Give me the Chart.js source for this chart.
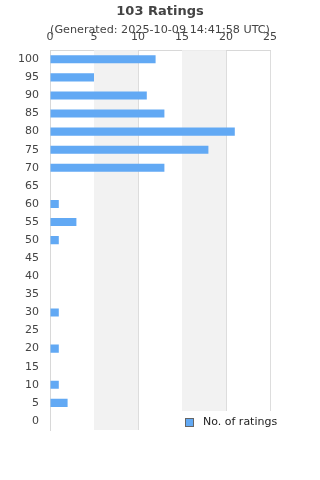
<!DOCTYPE html>
<html>
<head>
<meta charset="utf-8">
<script src="https://cdn.jsdelivr.net/npm/chart.js@4"></script>
<style>
  html, body { margin: 0; padding: 0; background: #fff; }
  #wrap { width: 320px; height: 480px; }
</style>
</head>
<body>
<div id="wrap"><canvas id="ratingsChart"></canvas></div>
<script>
// rating buckets, top to bottom
const buckets = ['100', '95', '90', '85', '80', '75', '70', '65', '60', '55', '50',
                 '45', '40', '35', '30', '25', '20', '15', '10', '5', '0'];
const counts = [12, 5, 11, 13, 21, 18, 13, 0, 1, 3, 1, 0, 0, 0, 1, 0, 1, 0, 1, 2, 0];
const xTicks = [0, 5, 10, 15, 20, 25];
const shadedBands = [[5, 10], [15, 20]];

const titleText = '103 Ratings';
const subtitleText = '(Generated: 2025-10-09 14:41:58 UTC)';
const seriesLabel = 'No. of ratings';

const FONT = "'DejaVu Sans', sans-serif";

// light grey bands behind the bars
const bandsPlugin = {
    id: 'bands',
    beforeDatasetsDraw(chart) {
        const { ctx, chartArea, scales } = chart;
        ctx.save();
        ctx.fillStyle = '#f2f2f2';
        shadedBands.forEach(([a, b]) => {
            const x1 = scales.x.getPixelForValue(a);
            const x2 = scales.x.getPixelForValue(b);
            ctx.fillRect(x1, chartArea.top, x2 - x1, chartArea.bottom - chartArea.top);
        });
        ctx.restore();
    }
};

// legend box sitting over the bottom right of the plot
const legendBoxPlugin = {
    id: 'legendBox',
    afterDraw(chart) {
        const { ctx, chartArea } = chart;
        const ds = chart.data.datasets[0];
        ctx.save();
        ctx.fillStyle = '#fff';
        ctx.fillRect(178, chartArea.bottom - 19, 112, 22);
        ctx.fillStyle = ds.backgroundColor;
        ctx.fillRect(185.5, chartArea.bottom - 11.5, 8, 8);
        ctx.strokeStyle = '#666';
        ctx.lineWidth = 1;
        ctx.strokeRect(185.5, chartArea.bottom - 11.5, 8, 8);
        ctx.fillStyle = '#222';
        ctx.font = '11px ' + FONT;
        ctx.textBaseline = 'middle';
        ctx.fillText(ds.label, 203, chartArea.bottom - 8);
        ctx.restore();
    }
};

const ctx = document.getElementById('ratingsChart').getContext('2d');
const ratingsChart = new Chart(ctx, {
    type: 'bar',
    data: {
        labels: buckets,
        datasets: [{
            label: seriesLabel,
            data: counts,
            backgroundColor: '#62a9f4',
            borderWidth: 0,
            barPercentage: 0.45,
            categoryPercentage: 1
        }]
    },
    options: {
        indexAxis: 'y',
        responsive: true,
        maintainAspectRatio: false,
        animation: false,
        layout: {
            padding: { top: 0, right: 0, bottom: 50, left: 0 }
        },
        scales: {
            x: {
                position: 'top',
                min: 0,
                max: 25,
                afterBuildTicks(axis) {
                    axis.ticks = xTicks.map(v => ({ value: v }));
                },
                afterFit(axis) { axis.height = 21.2; },
                grid: { color: '#dddddd', drawTicks: false },
                border: { color: '#d8d8d8' },
                ticks: {
                    color: '#444',
                    padding: 6,
                    font: { size: 11, family: FONT }
                }
            },
            y: {
                afterFit(axis) { axis.width = 50; },
                grid: { display: false, drawTicks: false },
                border: { color: '#d8d8d8' },
                ticks: {
                    color: '#444',
                    padding: 11,
                    autoSkip: false,
                    font: { size: 11, family: FONT }
                }
            },
            // empty right-hand gutter so the title centres over the plot
            gutter: {
                axis: 'y',
                type: 'linear',
                position: 'right',
                afterFit(axis) { axis.width = 50; },
                grid: { display: false, drawTicks: false },
                border: { display: false },
                ticks: { display: false }
            }
        },
        plugins: {
            legend: { display: false },
            tooltip: { enabled: false },
            title: {
                display: true,
                text: titleText,
                color: '#444',
                font: { size: 13, weight: 'bold', family: FONT },
                padding: { top: 4, bottom: 2 }
            },
            subtitle: {
                display: true,
                text: subtitleText,
                color: '#444',
                font: { size: 11.2, family: FONT },
                padding: { top: 2, bottom: -8 }
            }
        }
    },
    plugins: [bandsPlugin, legendBoxPlugin]
});
</script>
</body>
</html>
